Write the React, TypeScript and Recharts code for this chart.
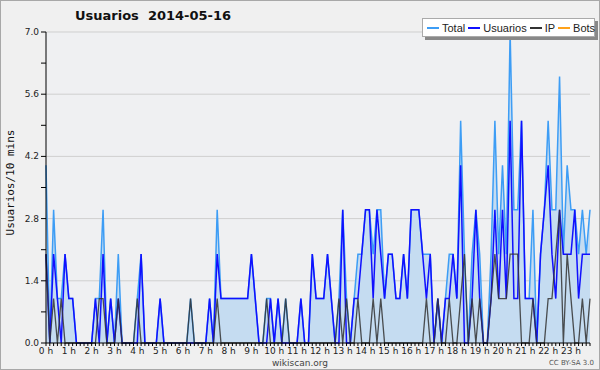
import React from 'react';
import { ComposedChart, Area, Line, XAxis, YAxis, CartesianGrid } from 'recharts';

// one value per 10 minutes, 00:00 .. 23:50
const total = [
  4, 0, 3, 1, 1, 2, 1, 1, 0, 0, 0, 0,
  0, 1, 1, 3, 0, 1, 0, 2, 0, 0, 0, 0,
  1, 2, 0, 0, 0, 0, 1, 0, 0, 0, 0, 0,
  0, 0, 1, 0, 0, 0, 0, 1, 0, 3, 1, 1,
  1, 1, 1, 1, 1, 1, 2, 1, 0, 0, 1, 1,
  0, 1, 0, 1, 0, 0, 0, 1, 0, 0, 2, 1,
  1, 1, 2, 1, 0, 1, 3, 1, 0, 1, 2, 2,
  3, 3, 2, 3, 3, 1, 2, 2, 1, 1, 2, 1,
  3, 3, 3, 2, 2, 2, 0, 1, 0, 1, 2, 2,
  1, 5, 2, 0, 2, 3, 2, 0, 0, 2, 5, 2,
  4, 2, 7, 3, 3, 5, 1, 1, 3, 0, 2, 3,
  5, 3, 3, 6, 2, 4, 3, 3, 2, 3, 2, 3,
];

const usuarios = [
  2, 0, 2, 1, 0, 2, 1, 1, 0, 0, 0, 0,
  0, 1, 0, 2, 0, 1, 0, 1, 0, 0, 0, 0,
  0, 2, 0, 0, 0, 0, 1, 0, 0, 0, 0, 0,
  0, 0, 0, 0, 0, 0, 0, 1, 0, 2, 1, 1,
  1, 1, 1, 1, 1, 1, 2, 1, 0, 0, 0, 1,
  0, 1, 0, 0, 0, 0, 0, 1, 0, 0, 2, 1,
  1, 1, 2, 1, 0, 0, 3, 0, 0, 1, 1, 2,
  3, 3, 1, 3, 2, 1, 2, 2, 1, 1, 2, 1,
  3, 3, 3, 2, 1, 2, 0, 1, 0, 1, 1, 2,
  1, 4, 0, 0, 1, 3, 1, 0, 0, 1, 3, 1,
  3, 1, 5, 1, 1, 5, 1, 1, 1, 0, 2, 3,
  4, 2, 1, 3, 2, 2, 2, 3, 1, 2, 2, 2,
];

const ip = [
  2, 0, 1, 0, 1, 0, 0, 0, 0, 0, 0, 0,
  0, 0, 1, 1, 0, 0, 0, 1, 0, 0, 0, 0,
  1, 0, 0, 0, 0, 0, 0, 0, 0, 0, 0, 0,
  0, 0, 1, 0, 0, 0, 0, 0, 0, 1, 0, 0,
  0, 0, 0, 0, 0, 0, 0, 0, 0, 0, 1, 0,
  0, 0, 0, 1, 0, 0, 0, 0, 0, 0, 0, 0,
  0, 0, 0, 0, 0, 1, 0, 1, 0, 0, 1, 0,
  0, 0, 1, 0, 1, 0, 0, 0, 0, 0, 0, 0,
  0, 0, 0, 0, 1, 0, 0, 1, 0, 0, 1, 0,
  0, 1, 2, 0, 1, 0, 1, 0, 0, 1, 2, 1,
  1, 1, 2, 2, 2, 0, 0, 0, 1, 0, 0, 0,
  1, 1, 2, 3, 0, 2, 1, 0, 0, 1, 0, 1,
];

const hourLabels = [
  '0 h', '1 h', '2 h', '3 h', '4 h', '5 h', '6 h', '7 h', '8 h', '9 h', '10 h', '11 h',
  '12 h', '13 h', '14 h', '15 h', '16 h', '17 h', '18 h', '19 h', '20 h', '21 h', '22 h', '23 h',
];

const yTicks = [0, 0.7, 1.4, 2.1, 2.8, 3.5, 4.2, 4.9, 5.6, 6.3, 7];
const gridValues = [1.4, 2.8, 4.2, 5.6, 7];

const series = [
  { name: 'Total', color: '#3d9df5' },
  { name: 'Usuarios', color: '#1010ff' },
  { name: 'IP', color: '#333333' },
  { name: 'Bots', color: '#ffa21a' },
];

const data = total.map((t, i) => ({ slot: i, total: t, usuarios: usuarios[i], ip: ip[i] }));
const slots = data.map((d) => d.slot);

const font = '"DejaVu Sans", Verdana, sans-serif';
const narrow = '"Liberation Sans", Arial, sans-serif';

const HourTick = (props: any) => {
  const { x, y, payload } = props;
  if (payload.value % 6 !== 0) return null;
  return (
    <text x={x} y={y} dy={6} textAnchor="middle" fontSize={9} fontFamily={font} fill="#222">
      {hourLabels[payload.value / 6]}
    </text>
  );
};

const ValueTick = (props: any) => {
  const { x, y, payload } = props;
  if (Math.round(payload.value * 10) % 14 !== 0) return null;
  return (
    <text x={x} y={y} dy={3} textAnchor="end" fontSize={9} fontFamily={font} fill="#222">
      {payload.value.toFixed(1)}
    </text>
  );
};

export default function App() {
  return (
    <div style={{ position: 'relative', width: 600, height: 370, background: '#f0f0f0', fontFamily: font }}>
      <style>{'body{margin:0}'}</style>
      <ComposedChart width={600} height={370} data={data} margin={{ top: 32, right: 10, bottom: 0, left: 0 }}>
        <CartesianGrid
          vertical={false}
          stroke="#cfcfcf"
          fill="#eff0f2"
          horizontalCoordinatesGenerator={({ offset }: any) =>
            gridValues.map((v) => offset.top + offset.height * (1 - v / 7))
          }
        />
        <XAxis
          dataKey="slot"
          type="number"
          domain={[0, 143]}
          ticks={slots}
          interval={0}
          tick={<HourTick />}
          tickSize={3}
          height={27}
          axisLine={{ stroke: '#000' }}
          tickLine={{ stroke: '#000' }}
        />
        <YAxis
          type="number"
          domain={[0, 7]}
          ticks={yTicks}
          interval={0}
          tick={<ValueTick />}
          tickSize={5}
          tickMargin={2}
          width={46}
          axisLine={{ stroke: '#000' }}
          tickLine={{ stroke: '#000' }}
        />
        <Area
          type="linear"
          dataKey="total"
          stroke={series[0].color}
          strokeWidth={1.5}
          fill="#c5dcf1"
          fillOpacity={1}
          isAnimationActive={false}
          dot={false}
          activeDot={false}
        />
        <Line
          type="linear"
          dataKey="usuarios"
          stroke={series[1].color}
          strokeWidth={1.5}
          dot={false}
          activeDot={false}
          isAnimationActive={false}
        />
        <Line
          type="linear"
          dataKey="ip"
          stroke={series[2].color}
          strokeOpacity={0.85}
          strokeWidth={1.3}
          dot={false}
          activeDot={false}
          isAnimationActive={false}
        />
      </ComposedChart>

      <div style={{ position: 'absolute', left: 75, top: 8, fontSize: 13, fontWeight: 'bold', whiteSpace: 'pre', color: '#111' }}>
        {'Usuarios  2014-05-16'}
      </div>

      <div
        style={{
          position: 'absolute', left: 422, top: 18, width: 173, height: 19,
          background: '#fff', border: '1px solid #aaa', boxShadow: '3px 3px 0 #888',
          display: 'flex', alignItems: 'center', fontSize: 11, fontFamily: narrow, color: '#222',
          boxSizing: 'border-box', paddingLeft: 4, whiteSpace: 'nowrap',
        }}
      >
        {series.map((s) => (
          <div key={s.name} style={{ display: 'flex', alignItems: 'center', marginRight: 3 }}>
            <div style={{ width: 12, height: 2, background: s.color, marginRight: 3 }} />
            <span>{s.name}</span>
          </div>
        ))}
      </div>

      <div
        style={{
          position: 'absolute', left: -90, top: 176, width: 200, textAlign: 'center',
          transform: 'rotate(-90deg)', fontFamily: '"DejaVu Sans Mono", monospace', fontSize: 11, color: '#111',
        }}
      >
        Usuarios/10 mins
      </div>

      <div style={{ position: 'absolute', left: 0, width: 600, top: 358, lineHeight: '10px', textAlign: 'center', fontSize: 9, color: '#444' }}>
        wikiscan.org
      </div>
      <div style={{ position: 'absolute', right: 6, top: 359, lineHeight: '8px', fontSize: 7, color: '#555' }}>CC BY-SA 3.0</div>
      <div style={{ position: 'absolute', inset: 0, border: '1px solid #a8a8a8', pointerEvents: 'none' }} />
    </div>
  );
}
